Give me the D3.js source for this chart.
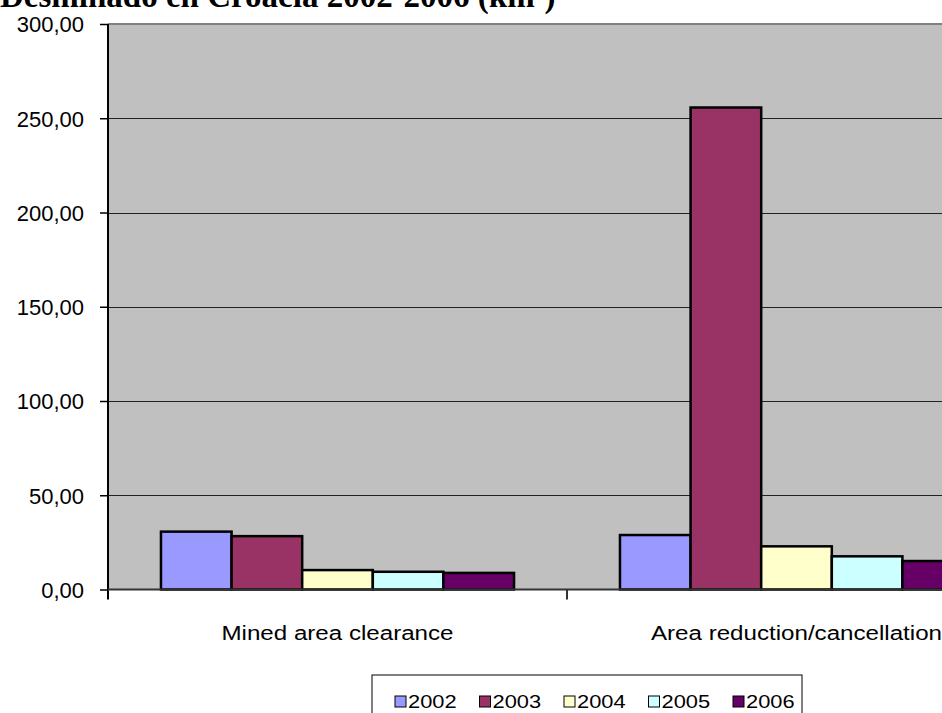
<!DOCTYPE html>
<html>
<head>
<meta charset="utf-8">
<script src="https://cdnjs.cloudflare.com/ajax/libs/d3/7.8.5/d3.min.js"></script>
<style>
  body { margin: 0; background: #fff; overflow: hidden; }
  svg { display: block; }
  .tick-label, .cat-label, .leg-label { font-family: "Liberation Sans", Arial, sans-serif; fill: #000; }
</style>
</head>
<body>
<svg id="chart" width="942" height="713"></svg>
<script>
// data
var categories = ["Mined area clearance", "Area reduction/cancellation"];
var years = ["2002", "2003", "2004", "2005", "2006"];
var values = {
  "2002": [30.7, 28.9],
  "2003": [28.3, 255.7],
  "2004": [10.3, 22.9],
  "2005": [9.4, 17.6],
  "2006": [8.8, 15.1]
};
var colors = ["#9999FF", "#993366", "#FFFFCC", "#CCFFFF", "#660066"];
var yTicks = [0, 50, 100, 150, 200, 250, 300];

var svg = d3.select("#chart");

// plot area (runs off the right edge like the original)
var plot = {left: 108, top: 24, right: 1026, bottom: 589.5};

var y = d3.scaleLinear().domain([0, 300]).range([plot.bottom, plot.top]);
var x0 = d3.scaleBand().domain(categories).range([plot.left, plot.right]);
var gap = x0.bandwidth() * 1.5 / 6.5;
var x1 = d3.scaleBand().domain(years).range([gap / 2, x0.bandwidth() - gap / 2]);
var color = d3.scaleOrdinal().domain(years).range(colors);

// title (top of it is cut off, as in the original)
svg.append("text")
    .attr("x", 0).attr("y", 7)
    .style("font-family", "'Liberation Serif', 'Times New Roman', serif")
    .style("font-weight", "bold")
    .style("font-size", "33px")
    .text("Desminado en Croacia 2002-2006 (km²)");

// background
svg.append("rect")
    .attr("x", plot.left).attr("y", plot.top)
    .attr("width", plot.right - plot.left).attr("height", plot.bottom - plot.top)
    .attr("fill", "#c0c0c0");

// gridlines
svg.append("g").selectAll("line")
    .data(yTicks.filter(function(d) { return d > 0 && d < 300; }))
    .enter().append("line")
    .attr("x1", plot.left).attr("x2", plot.right)
    .attr("y1", function(d) { return Math.round(y(d)) + 0.5; })
    .attr("y2", function(d) { return Math.round(y(d)) + 0.5; })
    .attr("stroke", "#222").attr("stroke-width", 1);

// top border
svg.append("line")
    .attr("x1", plot.left).attr("x2", plot.right)
    .attr("y1", plot.top).attr("y2", plot.top)
    .attr("stroke", "#808080").attr("stroke-width", 2);

// bars
var rows = categories.map(function(c, i) {
  return years.map(function(yr) { return {cat: c, year: yr, value: values[yr][i]}; });
});

svg.append("g").selectAll("g")
    .data(rows)
    .enter().append("g")
    .attr("transform", function(d) { return "translate(" + x0(d[0].cat) + ",0)"; })
    .selectAll("rect")
    .data(function(d) { return d; })
    .enter().append("rect")
    .attr("x", function(d) { return x1(d.year); })
    .attr("y", function(d) { return y(d.value); })
    .attr("width", x1.bandwidth())
    .attr("height", function(d) { return y(0) - y(d.value); })
    .attr("fill", function(d) { return color(d.year); })
    .attr("stroke", "#000").attr("stroke-width", 2.5);

// y axis
var yAxis = svg.append("g")
    .attr("transform", "translate(" + plot.left + ",0)")
    .call(d3.axisLeft(y).tickValues(yTicks).tickSize(8).tickSizeOuter(0)
      .tickFormat(function(d) { return d3.format(".2f")(d).replace(".", ","); }));
yAxis.select(".domain").remove();
yAxis.selectAll(".tick line").attr("stroke", "#000").attr("stroke-width", 1.5);
yAxis.selectAll(".tick text")
    .attr("class", "tick-label")
    .attr("x", -24)
    .attr("dy", "0.36em")
    .style("font-size", "22px")
    .attr("text-anchor", "end");

svg.append("line")
    .attr("x1", plot.left).attr("x2", plot.left)
    .attr("y1", plot.top).attr("y2", plot.bottom + 10)
    .attr("stroke", "#000").attr("stroke-width", 2);

// x axis
svg.append("line")
    .attr("x1", plot.left).attr("x2", plot.right)
    .attr("y1", plot.bottom).attr("y2", plot.bottom)
    .attr("stroke", "#333").attr("stroke-width", 2);

svg.append("g").selectAll("line")
    .data(categories.slice(1))
    .enter().append("line")
    .attr("x1", function(d) { return x0(d); }).attr("x2", function(d) { return x0(d); })
    .attr("y1", plot.bottom).attr("y2", plot.bottom + 10)
    .attr("stroke", "#333").attr("stroke-width", 2);

svg.append("g").selectAll("text")
    .data(categories)
    .enter().append("text")
    .attr("class", "cat-label")
    .attr("text-anchor", "middle")
    .attr("transform", function(d) {
      return "translate(" + (x0(d) + x0.bandwidth() / 2) + ",640) scale(1.15,1)";
    })
    .style("font-size", "21px")
    .text(function(d) { return d; });

// legend
var legend = svg.append("g").attr("transform", "translate(372,675)");
legend.append("rect")
    .attr("x", 0).attr("y", 0).attr("width", 430).attr("height", 60)
    .attr("fill", "#fff").attr("stroke", "#000").attr("stroke-width", 1);

var item = legend.selectAll(".item")
    .data(years)
    .enter().append("g")
    .attr("class", "item")
    .attr("transform", function(d, i) { return "translate(" + (23 + i * 84.5) + ",21)"; });
item.append("rect")
    .attr("width", 11).attr("height", 11)
    .attr("fill", function(d) { return color(d); })
    .attr("stroke", "#000").attr("stroke-width", 1);
item.append("text")
    .attr("class", "leg-label")
    .attr("transform", "translate(13,12) scale(1.15,1)")
    .style("font-size", "19px")
    .text(function(d) { return d; });
</script>
</body>
</html>
